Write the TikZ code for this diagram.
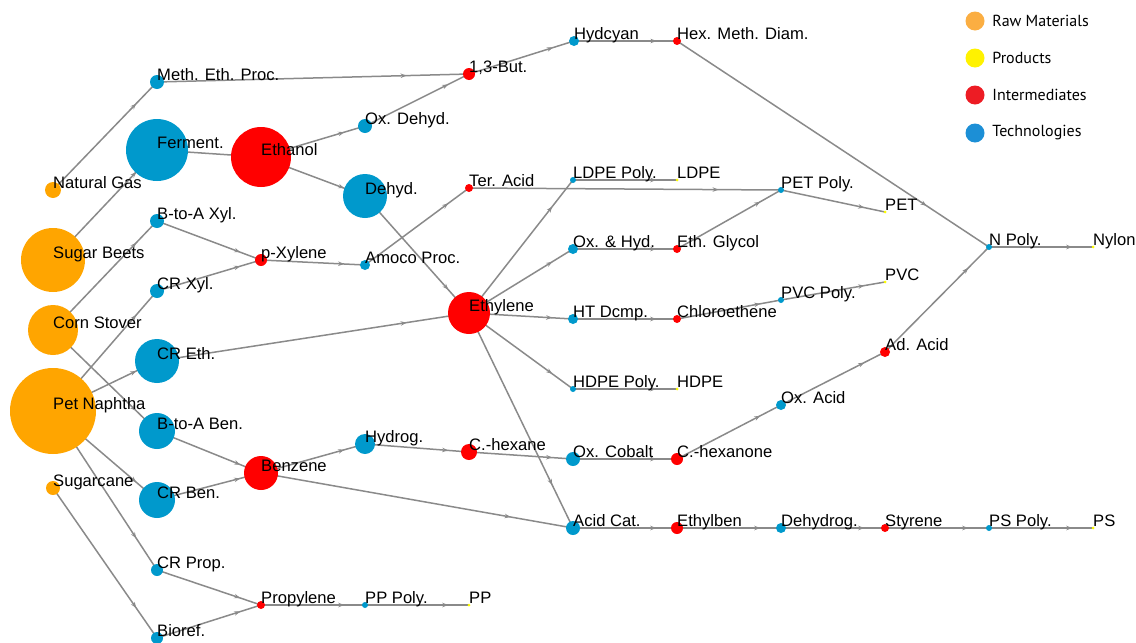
\documentclass[tikz,border=0pt]{standalone}
\usepackage{fontspec}
\usetikzlibrary{arrows.meta,decorations.markings,positioning}
\newfontfamily\lblfont{Liberation Sans}
\newfontfamily\legfont{PT Sans}

\definecolor{rawcol}{HTML}{FFA500}
\definecolor{prodcol}{HTML}{FFFF00}
\definecolor{intcol}{HTML}{FF0000}
\definecolor{techcol}{HTML}{0099CC}
\definecolor{edgecol}{HTML}{8A8A8A}
\definecolor{legraw}{HTML}{FBAE42}
\definecolor{legprod}{HTML}{FFF200}
\definecolor{legint}{HTML}{ED1C24}
\definecolor{legtech}{HTML}{1C8FD6}

\pgfdeclarelayer{background}
\pgfsetlayers{background,main}

\tikzset{
  vtx/.style={circle, inner sep=0pt, draw=none, minimum size=#1},
  raw/.style={vtx=#1, fill=rawcol},
  prod/.style={vtx=#1, fill=prodcol},
  inter/.style={vtx=#1, fill=intcol},
  tech/.style={vtx=#1, fill=techcol},
  lbl/.style={anchor=base west, inner sep=0pt, yshift=2pt,
    font={\lblfont\fontsize{16.6}{19}\selectfont}},
  legtxt/.style={inner sep=0pt, font={\legfont\fontsize{16}{19}\selectfont}},
  flow/.style={draw=edgecol, line width=1.5pt, postaction={decorate},
    decoration={markings,
      mark=at position 0.8 with {\arrow{Stealth[length=6pt,width=4.5pt]}}}}
}

\begin{document}
\begin{tikzpicture}[x=1pt,y=-1pt]
        \useasboundingbox (0,0) rectangle (1136,643);

            % raw materials
            \node[raw=16] (natgas) at (53,190) {};
            \node[raw=64] (sugbeet) at (53,260) {};
            \node[raw=50] (corn) at (53,330) {};
            \node[raw=86] (naphtha) at (53,411) {};
            \node[raw=14] (sugcane) at (53,488) {};

            % first column of technologies
            \node[tech=14] (methproc) at (157,82) {};
            \node[tech=62] (ferment) at (157,150) {};
            \node[tech=14] (btaxyl) at (157,221) {};
            \node[tech=14] (crxyl) at (157,291) {};
            \node[tech=44] (creth) at (157,361) {};
            \node[tech=36] (btaben) at (157,431) {};
            \node[tech=36] (crben) at (157,500) {};
            \node[tech=12] (crprop) at (157,570) {};
            \node[tech=12] (bioref) at (157,638) {};

            \node[inter=60] (ethanol) at (261,157) {};
            \node[inter=12] (pxylene) at (261,260) {};
            \node[inter=34] (benzene) at (261,473) {};
            \node[inter=8] (propylene) at (261,605) {};

            \node[tech=14] (oxdehyd) at (365,126) {};
            \node[tech=44] (dehyd) at (365,196) {};
            \node[tech=10] (amoco) at (365,265) {};
            \node[tech=20] (hydrog) at (365,444) {};
            \node[tech=6] (pppoly) at (365,605) {};

            \node[inter=12] (butad) at (469,74) {};
            \node[inter=8] (teracid) at (469,188) {};
            \node[inter=42] (ethylene) at (469,313) {};
            \node[inter=16] (chexane) at (469,452) {};
            \node[prod=3] (pp) at (469,605) {};

            \node[tech=10] (hydcyan) at (574,41) {};
            \node[tech=6] (ldpepoly) at (573,180) {};
            \node[tech=10] (oxhyd) at (573,249) {};
            \node[tech=10] (htdcmp) at (573,319) {};
            \node[tech=6] (hdpepoly) at (573,389) {};
            \node[tech=14] (oxcobalt) at (573,459) {};
            \node[tech=14] (acidcat) at (573,528) {};

            \node[inter=8] (hmd) at (677,41) {};
            \node[prod=3] (ldpe) at (677,180) {};
            \node[inter=8] (ethglycol) at (677,249) {};
            \node[inter=8] (chloro) at (677,319) {};
            \node[prod=3] (hdpe) at (677,389) {};
            \node[inter=12] (chexanone) at (677,459) {};
            \node[inter=12] (ethylben) at (677,528) {};

            \node[tech=6] (petpoly) at (781,190) {};
            \node[tech=6] (pvcpoly) at (781,300) {};
            \node[tech=10] (oxacid) at (781,405) {};
            \node[tech=10] (dehydrog) at (781,528) {};

            \node[prod=3] (pet) at (885,212) {};
            \node[prod=3] (pvc) at (885,282) {};
            \node[inter=10] (adacid) at (885,352) {};
            \node[inter=8] (styrene) at (885,528) {};

            \node[tech=6] (npoly) at (989,247) {};
            \node[tech=6] (pspoly) at (989,528) {};

            \node[prod=3] (nylon) at (1093,247) {};
            \node[prod=3] (ps) at (1093,528) {};

            % names, starting at each centre
            \node[lbl] at (natgas.center) {Natural Gas};
            \node[lbl] at (sugbeet.center) {Sugar Beets};
            \node[lbl] at (corn.center) {Corn Stover};
            \node[lbl] at (naphtha.center) {Pet Naphtha};
            \node[lbl] at (sugcane.center) {Sugarcane};
            \node[lbl] at (methproc.center) {Meth. Eth. Proc.};
            \node[lbl] at (ferment.center) {Ferment.};
            \node[lbl] at (btaxyl.center) {B-to-A Xyl.};
            \node[lbl] at (crxyl.center) {CR Xyl.};
            \node[lbl] at (creth.center) {CR Eth.};
            \node[lbl] at (btaben.center) {B-to-A Ben.};
            \node[lbl] at (crben.center) {CR Ben.};
            \node[lbl] at (crprop.center) {CR Prop.};
            \node[lbl] at (bioref.center) {Bioref.};
            \node[lbl] at (ethanol.center) {Ethanol};
            \node[lbl] at (pxylene.center) {p-Xylene};
            \node[lbl] at (benzene.center) {Benzene};
            \node[lbl] at (propylene.center) {Propylene};
            \node[lbl] at (oxdehyd.center) {Ox. Dehyd.};
            \node[lbl] at (dehyd.center) {Dehyd.};
            \node[lbl] at (amoco.center) {Amoco Proc.};
            \node[lbl] at (hydrog.center) {Hydrog.};
            \node[lbl] at (pppoly.center) {PP Poly.};
            \node[lbl] at (butad.center) {1,3-But.};
            \node[lbl] at (teracid.center) {Ter. Acid};
            \node[lbl] at (ethylene.center) {Ethylene};
            \node[lbl] at (chexane.center) {C.-hexane};
            \node[lbl] at (pp.center) {PP};
            \node[lbl] at (hydcyan.center) {Hydcyan};
            \node[lbl] at (ldpepoly.center) {LDPE Poly.};
            \node[lbl] at (oxhyd.center) {Ox. \& Hyd.};
            \node[lbl] at (htdcmp.center) {HT Dcmp.};
            \node[lbl] at (hdpepoly.center) {HDPE Poly.};
            \node[lbl] at (oxcobalt.center) {Ox. Cobalt};
            \node[lbl] at (acidcat.center) {Acid Cat.};
            \node[lbl] at (hmd.center) {Hex. Meth. Diam.};
            \node[lbl] at (ldpe.center) {LDPE};
            \node[lbl] at (ethglycol.center) {Eth. Glycol};
            \node[lbl] at (chloro.center) {Chloroethene};
            \node[lbl] at (hdpe.center) {HDPE};
            \node[lbl] at (chexanone.center) {C.-hexanone};
            \node[lbl] at (ethylben.center) {Ethylben};
            \node[lbl] at (petpoly.center) {PET Poly.};
            \node[lbl] at (pvcpoly.center) {PVC Poly.};
            \node[lbl] at (oxacid.center) {Ox. Acid};
            \node[lbl] at (dehydrog.center) {Dehydrog.};
            \node[lbl] at (pet.center) {PET};
            \node[lbl] at (pvc.center) {PVC};
            \node[lbl] at (adacid.center) {Ad. Acid};
            \node[lbl] at (styrene.center) {Styrene};
            \node[lbl] at (npoly.center) {N Poly.};
            \node[lbl] at (pspoly.center) {PS Poly.};
            \node[lbl] at (nylon.center) {Nylon};
            \node[lbl] at (ps.center) {PS};

            % connectors, behind the circles
            \begin{pgfonlayer}{background}
            \draw[flow] (natgas.center) -- (methproc.center);
            \draw[flow] (sugbeet.center) -- (ferment.center);
            \draw[flow] (corn.center) -- (btaxyl.center);
            \draw[flow] (corn.center) -- (btaben.center);
            \draw[flow] (naphtha.center) -- (crxyl.center);
            \draw[flow] (naphtha.center) -- (creth.center);
            \draw[flow] (naphtha.center) -- (crben.center);
            \draw[flow] (naphtha.center) -- (crprop.center);
            \draw[flow] (sugcane.center) -- (bioref.center);

            \draw[flow] (methproc.center) -- (butad.center);
            \draw[flow] (ferment.center) -- (ethanol.center);
            \draw[flow] (ethanol.center) -- (oxdehyd.center);
            \draw[flow] (ethanol.center) -- (dehyd.center);
            \draw[flow] (oxdehyd.center) -- (butad.center);
            \draw[flow] (butad.center) -- (hydcyan.center);
            \draw[flow] (hydcyan.center) -- (hmd.center);
            \draw[flow] (hmd.center) -- (npoly.center);
            \draw[flow] (dehyd.center) -- (ethylene.center);

            \draw[flow] (btaxyl.center) -- (pxylene.center);
            \draw[flow] (crxyl.center) -- (pxylene.center);
            \draw[flow] (pxylene.center) -- (amoco.center);
            \draw[flow] (amoco.center) -- (teracid.center);
            \draw[flow] (teracid.center) -- (petpoly.center);
            \draw[flow] (creth.center) -- (ethylene.center);

            \draw[flow] (ethylene.center) -- (ldpepoly.center);
            \draw[flow] (ethylene.center) -- (oxhyd.center);
            \draw[flow] (ethylene.center) -- (htdcmp.center);
            \draw[flow] (ethylene.center) -- (hdpepoly.center);
            \draw[flow] (ethylene.center) -- (acidcat.center);
            \draw[flow] (ldpepoly.center) -- (ldpe.center);
            \draw[flow] (oxhyd.center) -- (ethglycol.center);
            \draw[flow] (ethglycol.center) -- (petpoly.center);
            \draw[flow] (petpoly.center) -- (pet.center);
            \draw[flow] (htdcmp.center) -- (chloro.center);
            \draw[flow] (chloro.center) -- (pvcpoly.center);
            \draw[flow] (pvcpoly.center) -- (pvc.center);
            \draw[flow] (hdpepoly.center) -- (hdpe.center);

            \draw[flow] (btaben.center) -- (benzene.center);
            \draw[flow] (crben.center) -- (benzene.center);
            \draw[flow] (benzene.center) -- (hydrog.center);
            \draw[flow] (benzene.center) -- (acidcat.center);
            \draw[flow] (hydrog.center) -- (chexane.center);
            \draw[flow] (chexane.center) -- (oxcobalt.center);
            \draw[flow] (oxcobalt.center) -- (chexanone.center);
            \draw[flow] (chexanone.center) -- (oxacid.center);
            \draw[flow] (oxacid.center) -- (adacid.center);
            \draw[flow] (adacid.center) -- (npoly.center);
            \draw[flow] (npoly.center) -- (nylon.center);

            \draw[flow] (acidcat.center) -- (ethylben.center);
            \draw[flow] (ethylben.center) -- (dehydrog.center);
            \draw[flow] (dehydrog.center) -- (styrene.center);
            \draw[flow] (styrene.center) -- (pspoly.center);
            \draw[flow] (pspoly.center) -- (ps.center);

            \draw[flow] (crprop.center) -- (propylene.center);
            \draw[flow] (bioref.center) -- (propylene.center);
            \draw[flow] (propylene.center) -- (pppoly.center);
            \draw[flow] (pppoly.center) -- (pp.center);
            \end{pgfonlayer}

            % legend
            \node[vtx=19, fill=legraw] (keyraw) at (975,21) {};
            \node[vtx=19, fill=legprod] (keyprod) at (975,58) {};
            \node[vtx=19, fill=legint] (keyint) at (975,95) {};
            \node[vtx=19, fill=legtech] (keytech) at (975,133) {};
            \node[legtxt, right=7.5pt of keyraw] {Raw Materials};
            \node[legtxt, right=7.5pt of keyprod] {Products};
            \node[legtxt, right=7.5pt of keyint] {Intermediates};
            \node[legtxt, right=7.5pt of keytech] {Technologies};

\end{tikzpicture}
\end{document}
